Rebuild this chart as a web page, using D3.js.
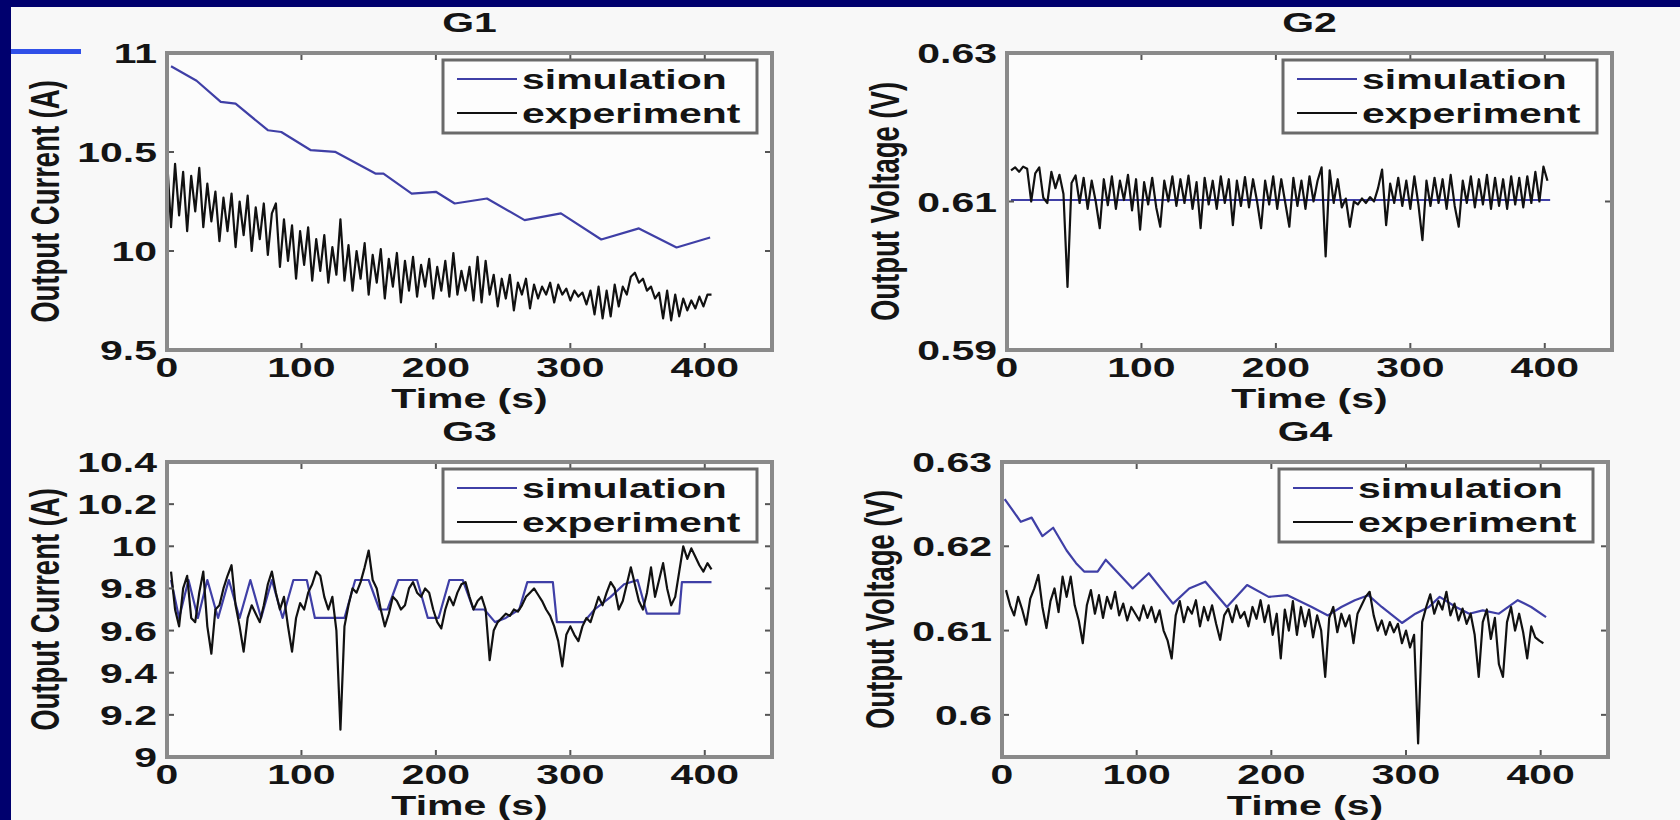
<!DOCTYPE html>
<html>
<head>
<meta charset="utf-8">
<script src="https://cdn.jsdelivr.net/npm/d3@7.9.0/dist/d3.min.js"></script>
<style>
  html, body { margin: 0; padding: 0; background: #00006e; }
  svg { display: block; }
  text { font-family: "Liberation Sans", Arial, Helvetica, sans-serif; font-weight: bold; fill: #141414; }
</style>
</head>
<body>
<svg id="chart" width="1680" height="820"></svg>
<script>
// ---- data ----
const titles = ['G1', 'G2', 'G3', 'G4'];
const yLabels = ['Output Current (A)', 'Output Voltage (V)', 'Output Current (A)', 'Output Voltage (V)'];
const xLabel = 'Time (s)';
const legendLabels = ['simulation', 'experiment'];
const xTicks = [0, 100, 200, 300, 400];
const g1Ticks = [9.5, 10, 10.5, 11];
const g2Ticks = [0.59, 0.61, 0.63];
const g3Ticks = [9, 9.2, 9.4, 9.6, 9.8, 10, 10.2, 10.4];
const g4Ticks = [0.6, 0.61, 0.62, 0.63];

// simulation: [time, value]
const g1Sim = [[3, 10.933], [22, 10.86], [40, 10.753], [51, 10.744], [75, 10.61], [85, 10.601], [107, 10.509],
  [125, 10.501], [155, 10.391], [161, 10.391], [182, 10.29], [200, 10.299], [214, 10.24], [238, 10.265],
  [266, 10.156], [293, 10.19], [323, 10.058], [351, 10.114], [379, 10.018], [404, 10.068]];
const g2Sim = [[3, 0.6102], [404, 0.6102]];
const g3Sim = [[3, 9.84], [9, 9.66], [16, 9.84], [23, 9.66], [30, 9.84], [38, 9.66], [46, 9.84], [54, 9.66],
  [62, 9.84], [70, 9.66], [78, 9.84], [86, 9.66], [94, 9.84], [104, 9.84], [110, 9.66], [132, 9.66],
  [140, 9.84], [150, 9.84], [158, 9.70], [164, 9.70], [172, 9.84], [186, 9.84], [194, 9.66], [202, 9.66],
  [210, 9.84], [220, 9.84], [228, 9.70], [236, 9.70], [244, 9.64], [252, 9.66], [262, 9.70], [268, 9.83],
  [287, 9.83], [290, 9.64], [310, 9.64], [318, 9.70], [330, 9.76], [340, 9.82], [350, 9.84], [357, 9.68],
  [381, 9.68], [383, 9.83], [405, 9.83]];
const g4Sim = [[2, 0.6256], [14, 0.6229], [22, 0.6234], [30, 0.6212], [38, 0.6222], [48, 0.6195], [55, 0.618],
  [61, 0.617], [71, 0.617], [77, 0.6184], [97, 0.615], [109, 0.6168], [127, 0.6132], [139, 0.615],
  [151, 0.6158], [167, 0.6128], [182, 0.6154], [198, 0.614], [212, 0.6142], [230, 0.6128], [242, 0.6118],
  [252, 0.6128], [262, 0.6136], [272, 0.6142], [282, 0.6128], [297, 0.6109], [307, 0.612], [317, 0.6128],
  [325, 0.614], [337, 0.6128], [347, 0.612], [357, 0.6124], [369, 0.612], [383, 0.6136], [393, 0.6128],
  [404, 0.6116]];

// experiment: sampled every 3 s
const expStep = 3;
const g1ExpStart = 0;
const g1Exp = [10.47, 10.12, 10.44, 10.18, 10.40, 10.10, 10.38, 10.20, 10.42, 10.12, 10.34, 10.15,
  10.30, 10.05, 10.27, 10.10, 10.29, 10.02, 10.25, 10.08, 10.28, 10.00, 10.22, 10.06, 10.24, 9.98,
  10.19, 10.24, 9.92, 10.16, 9.95, 10.13, 9.86, 10.10, 9.93, 10.12, 9.85, 10.06, 9.90, 10.08, 9.84,
  10.02, 9.88, 10.16, 9.85, 10.03, 9.80, 10.00, 9.86, 10.04, 9.78, 9.98, 9.84, 10.01, 9.76, 9.96,
  9.82, 9.99, 9.74, 9.95, 9.80, 9.97, 9.77, 9.93, 9.82, 9.96, 9.76, 9.92, 9.80, 9.95, 9.77, 9.99,
  9.78, 9.90, 9.80, 9.92, 9.75, 9.97, 9.74, 9.95, 9.78, 9.88, 9.72, 9.86, 9.76, 9.88, 9.70, 9.84,
  9.78, 9.86, 9.71, 9.83, 9.76, 9.82, 9.78, 9.84, 9.74, 9.83, 9.78, 9.81, 9.75, 9.80, 9.77, 9.79,
  9.73, 9.80, 9.68, 9.82, 9.66, 9.80, 9.67, 9.83, 9.72, 9.82, 9.78, 9.87, 9.89, 9.84, 9.86, 9.80,
  9.82, 9.76, 9.79, 9.66, 9.80, 9.65, 9.78, 9.67, 9.76, 9.70, 9.75, 9.71, 9.77, 9.72, 9.78, 9.78];
const g2ExpStart = 3;
const g2Exp = [0.6142, 0.6146, 0.6140, 0.6147, 0.6144, 0.6100, 0.6138, 0.6146, 0.6105, 0.6098, 0.6140,
  0.6118, 0.6136, 0.6110, 0.5985, 0.6125, 0.6135, 0.6098, 0.6132, 0.6090, 0.6128, 0.6100, 0.6064,
  0.6130, 0.6095, 0.6134, 0.6090, 0.6128, 0.6102, 0.6136, 0.6088, 0.6130, 0.6062, 0.6126, 0.6096,
  0.6132, 0.6092, 0.6066, 0.6128, 0.6100, 0.6134, 0.6094, 0.6130, 0.6098, 0.6135, 0.6090, 0.6126,
  0.6064, 0.6132, 0.6096, 0.6128, 0.6090, 0.6134, 0.6098, 0.6130, 0.6068, 0.6128, 0.6094, 0.6133,
  0.6092, 0.6130, 0.6100, 0.6064, 0.6128, 0.6096, 0.6134, 0.6090, 0.6130, 0.6098, 0.6066, 0.6132,
  0.6094, 0.6128, 0.6090, 0.6134, 0.6100, 0.6128, 0.6146, 0.6026, 0.6142, 0.6098, 0.6130, 0.6092,
  0.6104, 0.6066, 0.6100, 0.6096, 0.6104, 0.6098, 0.6106, 0.6100, 0.6118, 0.6143, 0.6068, 0.6124,
  0.6098, 0.6132, 0.6094, 0.6128, 0.6090, 0.6134, 0.6096, 0.6048, 0.6128, 0.6094, 0.6132, 0.6098,
  0.6130, 0.6090, 0.6136, 0.6094, 0.6066, 0.6128, 0.6098, 0.6134, 0.6092, 0.6130, 0.6096, 0.6136,
  0.6090, 0.6132, 0.6094, 0.6130, 0.6090, 0.6134, 0.6096, 0.6132, 0.6092, 0.6134, 0.6098, 0.6140,
  0.6100, 0.6147, 0.6128];
const g3ExpStart = 3;
const g3Exp = [9.88, 9.70, 9.62, 9.80, 9.86, 9.66, 9.64, 9.78, 9.88, 9.62, 9.49, 9.70, 9.72, 9.80,
  9.86, 9.91, 9.72, 9.62, 9.50, 9.66, 9.72, 9.68, 9.64, 9.72, 9.82, 9.88, 9.78, 9.70, 9.76, 9.62,
  9.50, 9.66, 9.73, 9.70, 9.78, 9.82, 9.88, 9.86, 9.76, 9.70, 9.76, 9.60, 9.13, 9.62, 9.72, 9.80,
  9.78, 9.83, 9.90, 9.98, 9.84, 9.80, 9.70, 9.62, 9.68, 9.76, 9.74, 9.70, 9.72, 9.80, 9.83, 9.78,
  9.76, 9.80, 9.78, 9.70, 9.64, 9.61, 9.70, 9.76, 9.72, 9.78, 9.82, 9.83, 9.76, 9.70, 9.74, 9.76,
  9.70, 9.46, 9.60, 9.64, 9.66, 9.68, 9.67, 9.70, 9.69, 9.72, 9.76, 9.78, 9.80, 9.77, 9.74, 9.70,
  9.67, 9.62, 9.55, 9.43, 9.58, 9.62, 9.58, 9.55, 9.62, 9.66, 9.64, 9.70, 9.76, 9.72, 9.78, 9.83,
  9.80, 9.70, 9.74, 9.82, 9.90, 9.82, 9.74, 9.70, 9.78, 9.90, 9.76, 9.84, 9.92, 9.80, 9.72, 9.76,
  9.88, 10.00, 9.94, 9.99, 9.95, 9.91, 9.88, 9.92, 9.89];
const g4ExpStart = 3;
const g4Exp = [0.6148, 0.6130, 0.6118, 0.6140, 0.6125, 0.6107, 0.6138, 0.6150, 0.6166, 0.6128, 0.6103,
  0.6135, 0.6150, 0.6122, 0.6164, 0.6140, 0.6164, 0.6130, 0.6112, 0.6085, 0.6130, 0.6148, 0.6120,
  0.6142, 0.6115, 0.6140, 0.6126, 0.6146, 0.6118, 0.6132, 0.6112, 0.6128, 0.6120, 0.6112, 0.6130,
  0.6115, 0.6128, 0.6110, 0.6124, 0.6100, 0.6088, 0.6067, 0.6118, 0.6135, 0.6110, 0.6128, 0.6120,
  0.6136, 0.6105, 0.6128, 0.6112, 0.6130, 0.6108, 0.6089, 0.6118, 0.6126, 0.6110, 0.6130, 0.6115,
  0.6122, 0.6105, 0.6128, 0.6114, 0.6136, 0.6110, 0.6130, 0.6095, 0.6120, 0.6067, 0.6125, 0.6100,
  0.6135, 0.6095, 0.6128, 0.6105, 0.6125, 0.6092, 0.6118, 0.6100, 0.6045, 0.6115, 0.6128, 0.6098,
  0.6120, 0.6105, 0.6118, 0.6085, 0.6120, 0.6130, 0.6140, 0.6146, 0.6118, 0.6100, 0.6112, 0.6095,
  0.6110, 0.6098, 0.6108, 0.6085, 0.6100, 0.6080, 0.6095, 0.5966, 0.6110, 0.6128, 0.6143, 0.6120,
  0.6135, 0.6125, 0.6146, 0.6118, 0.6132, 0.6112, 0.6126, 0.6108, 0.6120, 0.6095, 0.6045, 0.6110,
  0.6125, 0.6090, 0.6115, 0.6060, 0.6045, 0.6110, 0.6128, 0.6100, 0.6120, 0.6098, 0.6067, 0.6105,
  0.6092, 0.6088, 0.6085];

// ---- layout ----
const W = 1680, H = 820;
const FS = 27.5, SX = 1.49;
const simColor = '#3f3fa6', expColor = '#111';

const panels = [
  { title: titles[0], yLabel: yLabels[0], domain: [9.5, 11], ticks: g1Ticks, sim: g1Sim,
    exp: g1Exp, expStart: g1ExpStart, box: { l: 167, r: 772, t: 53, b: 350 } },
  { title: titles[1], yLabel: yLabels[1], domain: [0.59, 0.63], ticks: g2Ticks, sim: g2Sim,
    exp: g2Exp, expStart: g2ExpStart, box: { l: 1007, r: 1612, t: 53, b: 350 } },
  { title: titles[2], yLabel: yLabels[2], domain: [9, 10.4], ticks: g3Ticks, sim: g3Sim,
    exp: g3Exp, expStart: g3ExpStart, box: { l: 167, r: 772, t: 462, b: 757 } },
  { title: titles[3], yLabel: yLabels[3], domain: [0.595, 0.63], ticks: g4Ticks, sim: g4Sim,
    exp: g4Exp, expStart: g4ExpStart, box: { l: 1002, r: 1608, t: 462, b: 757 } }
];

const svg = d3.select('#chart');
svg.append('rect').attr('width', W).attr('height', H).attr('fill', '#00006e');
svg.append('rect').attr('x', 11).attr('y', 7).attr('width', W - 11).attr('height', H - 7).attr('fill', '#f8f8f8');
svg.append('rect').attr('x', 11).attr('y', 49).attr('width', 70).attr('height', 5).attr('fill', '#3050e8');

function label(g, x, y, str, anchor, rotate) {
  g.append('text')
    .attr('transform', `translate(${x},${y}) scale(${SX},1)` + (rotate ? ' rotate(-90)' : ''))
    .attr('text-anchor', anchor)
    .attr('font-size', FS)
    .text(str);
}

panels.forEach((p, k) => {
  const { l, r, t, b } = p.box;
  const x = d3.scaleLinear().domain([0, 450]).range([l, r]);
  const y = d3.scaleLinear().domain(p.domain).range([b, t]);
  const g = svg.append('g');

  g.append('rect').attr('x', l).attr('y', t).attr('width', r - l).attr('height', b - t).attr('fill', '#fcfcfc');

  const clipId = 'clip' + k;
  g.append('clipPath').attr('id', clipId)
    .append('rect').attr('x', l).attr('y', t).attr('width', r - l).attr('height', b - t);

  const line = d3.line().x(d => x(d[0])).y(d => y(d[1]));
  const expPts = p.exp.map((v, i) => [p.expStart + i * expStep, v]);

  const plot = g.append('g').attr('clip-path', `url(#${clipId})`);
  plot.append('path').attr('d', line(p.sim)).attr('fill', 'none')
    .attr('stroke', simColor).attr('stroke-width', 2.2).attr('stroke-linejoin', 'round');
  plot.append('path').attr('d', line(expPts)).attr('fill', 'none')
    .attr('stroke', expColor).attr('stroke-width', 2.2).attr('stroke-linejoin', 'round');

  // ticks on all four sides, pointing in
  const tk = 7;
  xTicks.forEach(v => {
    g.append('line').attr('x1', x(v)).attr('x2', x(v)).attr('y1', b).attr('y2', b - tk).attr('stroke', '#555').attr('stroke-width', 2);
    g.append('line').attr('x1', x(v)).attr('x2', x(v)).attr('y1', t).attr('y2', t + tk).attr('stroke', '#555').attr('stroke-width', 2);
    label(g, x(v), b + 27, String(v), 'middle');
  });
  p.ticks.forEach(v => {
    g.append('line').attr('x1', l).attr('x2', l + tk).attr('y1', y(v)).attr('y2', y(v)).attr('stroke', '#555').attr('stroke-width', 2);
    g.append('line').attr('x1', r).attr('x2', r - tk).attr('y1', y(v)).attr('y2', y(v)).attr('stroke', '#555').attr('stroke-width', 2);
    label(g, l - 10, y(v) + 10, String(v), 'end');
  });

  g.append('rect').attr('x', l).attr('y', t).attr('width', r - l).attr('height', b - t)
    .attr('fill', 'none').attr('stroke', '#8a8a8a').attr('stroke-width', 4);

  // legend
  const lx = r - 329, ly = t + 7;
  g.append('rect').attr('x', lx).attr('y', ly).attr('width', 314).attr('height', 73)
    .attr('fill', '#fdfdfd').attr('stroke', '#6a6a6a').attr('stroke-width', 3);
  [simColor, expColor].forEach((c, i) => {
    const ry = ly + 19 + i * 34;
    g.append('line').attr('x1', lx + 14).attr('x2', lx + 74).attr('y1', ry).attr('y2', ry)
      .attr('stroke', c).attr('stroke-width', 2.2);
    label(g, lx + 79, ry + 10, legendLabels[i], 'start');
  });

  label(g, (l + r) / 2, t - 21, p.title, 'middle');
  label(g, (l + r) / 2, b + 58, xLabel, 'middle');
  label(g, l - 108, (t + b) / 2, p.yLabel, 'middle', true);
});
</script>
</body>
</html>
